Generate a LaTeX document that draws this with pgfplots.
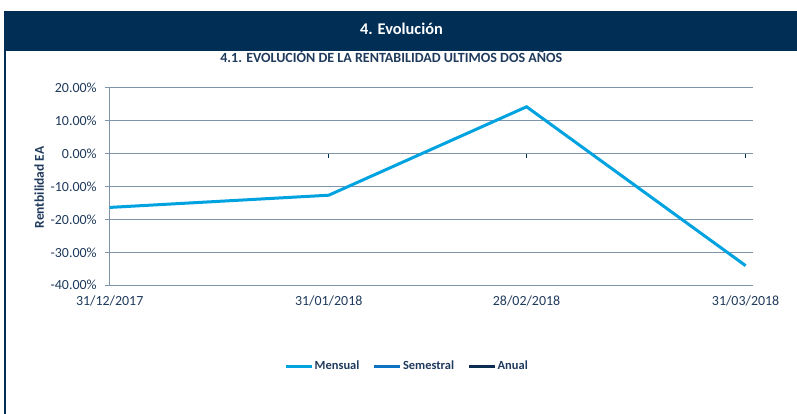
\documentclass[border=0pt]{standalone}
\usepackage{pgfplots}
\pgfplotsset{compat=1.18}
\usepackage{fontspec}
\setmainfont{Carlito}
\definecolor{navy}{HTML}{002E55}
\definecolor{textc}{HTML}{1F3A5C}
\definecolor{gridc}{HTML}{7F93AB}
\definecolor{mens}{HTML}{00A2E0}
\definecolor{seme}{HTML}{0B72C4}
\definecolor{anual}{HTML}{0C2D52}
\begin{document}
\begin{tikzpicture}
\useasboundingbox (0,0) rectangle (797bp,414bp);
\fill[navy] (4bp,363bp) rectangle (797bp,403bp);
\fill[navy] (4bp,0) rectangle (6bp,363bp);
\node[text=white, font=\fontsize{16.4}{19}\selectfont\bfseries, anchor=base] at (401.5bp,379bp) {4. Evolución};
\node[text=textc, font=\fontsize{14.1}{16}\selectfont\bfseries, anchor=base] at (391.3bp,351bp) {4.1. EVOLUCIÓN DE LA RENTABILIDAD ULTIMOS DOS AÑOS};
\begin{axis}[
  at={(109.7bp,128.7bp)}, anchor=south west,
  scale only axis, width=643bp, height=198bp,
  xmin=0, xmax=91, ymin=-40, ymax=20,
  axis x line=middle, axis y line=left,
  hide obscured x ticks=false, hide obscured y ticks=false,
  axis line style={-, draw=gridc, line width=0.9bp},
  xtick={0,31,59,90},
  xticklabels={31/12/2017,31/01/2018,28/02/2018,31/03/2018},
  ytick={-40,-30,...,20},
  yticklabels={-40.00\%,-30.00\%,-20.00\%,-10.00\%,0.00\%,10.00\%,20.00\%},
  ymajorgrids, grid style={draw=gridc, line width=0.9bp},
  major tick length=4.5bp,
  ytick align=outside, xtick align=center,
  x tick style={draw=navy, line width=0.9bp, yshift=-2.25bp},
  y tick style={draw=gridc, line width=0.9bp},
  tick label style={text=textc, font=\fontsize{14}{16}\selectfont},
  /pgf/number format/assume math mode=true,
  xticklabel style={anchor=base, yshift=-150bp},
  yticklabel style={xshift=-5bp},
  ylabel={Rentbilidad EA},
  ylabel style={at={(axis description cs:-0.1095,0.494)}, anchor=center, font=\fontsize{13.5}{16}\selectfont\bfseries, text=textc},
  legend columns=3,
  legend image code/.code={\draw[#1, line width=3bp] (0bp,0bp) -- (26bp,0bp);},
  legend style={at={(axis description cs:0.462,-0.4076)}, anchor=center, draw=none, fill=none,
    font=\fontsize{12.5}{14}\selectfont\bfseries, text=textc,
    /tikz/every even column/.append style={column sep=12bp}, nodes={inner sep=1.3bp}},
]
\addplot[mens, line width=3bp] coordinates {(0,-16.4) (31,-12.7) (59,14.1) (90,-34.05)};
\addlegendentry{Mensual}
\addlegendimage{seme, line width=3bp}
\addlegendentry{Semestral}
\addlegendimage{anual, line width=3bp}
\addlegendentry{Anual}
\end{axis}
\end{tikzpicture}
\end{document}
